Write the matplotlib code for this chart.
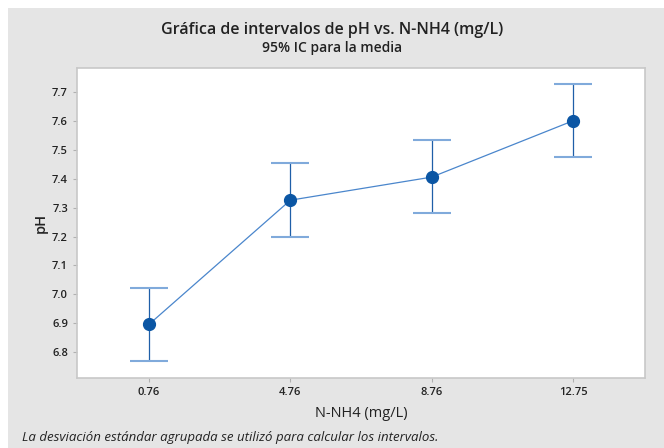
import matplotlib.pyplot as plt
from matplotlib.patches import Rectangle

categories = ["0.76", "4.76", "8.76", "12.75"]
means = [6.896, 7.326, 7.406, 7.601]
lower = [6.768, 7.198, 7.280, 7.474]
upper = [7.022, 7.454, 7.533, 7.728]

plt.rcParams["font.family"] = ["Open Sans", "DejaVu Sans"]

fig = plt.figure(figsize=(6.64, 4.48), dpi=100)
fig.patch.set_facecolor("white")
fig.patches.append(Rectangle((8 / 664, 0), 1, (448 - 8) / 448, transform=fig.transFigure,
                             facecolor="#e5e5e5", edgecolor="none", zorder=-10))

ax = fig.add_axes([77 / 664, 70 / 448, 568 / 664, 310 / 448])
ax.set_facecolor("white")

x = list(range(len(categories)))
yerr = [[m - lo for m, lo in zip(means, lower)], [up - m for m, up in zip(means, upper)]]

ax.plot(x, means, color="#4a86cc", lw=0.9, zorder=2)
_, caps, bars = ax.errorbar(x, means, yerr=yerr, fmt="none", ecolor="#1f5fa8",
                            elinewidth=0.9, capsize=14, capthick=1.5, zorder=3)
for c in caps:
    c.set_markeredgecolor("#80aadb")
ax.plot(x, means, "o", color="#0b56a4", markersize=8.5, zorder=4)

ax.set_xlim(-0.51, 3.51)
ax.set_ylim(6.71, 7.784)
ax.set_xticks(x)
ax.set_xticklabels(categories)
ax.set_yticks([6.8, 6.9, 7.0, 7.1, 7.2, 7.3, 7.4, 7.5, 7.6, 7.7])
ax.tick_params(axis="both", colors="#b0b0b0", labelcolor="#222222", labelsize=8, length=3, width=0.8)
for lab in ax.get_xticklabels() + ax.get_yticklabels():
    lab.set_fontweight("semibold")
for s in ax.spines.values():
    s.set_color("#c8c8c8")
    s.set_linewidth(1.2)

ax.set_xlabel("N-NH4 (mg/L)", fontsize=10.5, color="#222222", labelpad=6)
ax.set_ylabel("pH", fontsize=10.5, color="#222222", fontweight="semibold", labelpad=3)

fig.text(0.5, 1 - 30 / 448, "Gráfica de intervalos de pH vs. N-NH4 (mg/L)", ha="center", va="center",
         fontsize=11.5, fontweight="semibold", color="#222222")
fig.text(0.5, 1 - 48 / 448, "95% IC para la media", ha="center", va="center",
         fontsize=10, fontweight="semibold", color="#222222")
fig.text(22 / 664, 1 - 437 / 448, "La desviación estándar agrupada se utilizó para calcular los intervalos.",
         ha="left", va="center", fontsize=9.5, style="italic", color="#222222")

fig.savefig("out.png", dpi=100)
